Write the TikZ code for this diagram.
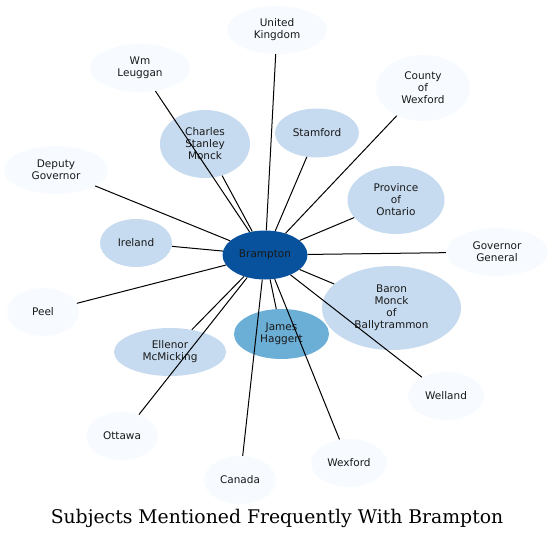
\documentclass[tikz,border=0pt]{standalone}
\usepackage{fontspec}
\setmainfont{DejaVu Sans}
\newfontfamily\titlefont{DejaVu Serif}
\usetikzlibrary{shapes.geometric}
\definecolor{pale}{HTML}{F7FBFF}
\definecolor{light}{HTML}{C6DBEF}
\definecolor{medium}{HTML}{6BAED6}
\definecolor{dark}{HTML}{08519C}
\tikzset{
  ent/.style={ellipse, inner sep=0pt, align=center, font=\fontsize{10.5}{12}\selectfont, text=black!90},
  pent/.style={ent, fill=pale},
  lent/.style={ent, fill=light},
  ment/.style={ent, fill=medium},
  dent/.style={ent, fill=dark},
  link/.style={draw=black, line width=1pt},
}
\begin{document}
\begin{tikzpicture}[x=1pt,y=-1pt]
\useasboundingbox (0,0) rectangle (553,540);
\node[dent, minimum width=85pt, minimum height=49pt] (bram) at (265,255) {Brampton};
\node[pent, minimum width=100pt, minimum height=48pt] (uk) at (277,30) {United\\Kingdom};
\node[pent, minimum width=100pt, minimum height=48pt] (wm) at (140,68) {Wm\\Leuggan};
\node[pent, minimum width=94pt, minimum height=66pt] (cow) at (423,88) {County\\of\\Wexford};
\node[lent, minimum width=90pt, minimum height=68pt] (csm) at (205,144) {Charles\\Stanley\\Monck};
\node[lent, minimum width=84pt, minimum height=49pt] (stam) at (317,133) {Stamford};
\node[pent, minimum width=104pt, minimum height=48pt] (dg) at (56,170) {Deputy\\Governor};
\node[lent, minimum width=97pt, minimum height=68pt] (poo) at (396,200) {Province\\of\\Ontario};
\node[lent, minimum width=72pt, minimum height=48pt] (irl) at (136,243) {Ireland};
\node[pent, minimum width=102pt, minimum height=48pt] (gg) at (497,252) {Governor\\General};
\node[lent, minimum width=139pt, minimum height=84pt] (baron) at (391.5,308) {Baron\\Monck\\of\\Ballytrammon};
\node[pent, minimum width=72pt, minimum height=48pt] (peel) at (43,312) {Peel};
\node[ment, minimum width=95pt, minimum height=50pt] (jh) at (281.5,334) {James\\Haggert};
\node[lent, minimum width=112pt, minimum height=48pt] (em) at (170,352) {Ellenor\\McMicking};
\node[pent, minimum width=76pt, minimum height=48pt] (well) at (446,396) {Welland};
\node[pent, minimum width=72pt, minimum height=48pt] (ott) at (122,436) {Ottawa};
\node[pent, minimum width=76pt, minimum height=48pt] (wex) at (349,463) {Wexford};
\node[pent, minimum width=72pt, minimum height=48pt] (can) at (240,480) {Canada};
\foreach \t in {uk,wm,cow,csm,stam,dg,poo,irl,gg,baron,peel,jh,em,well,ott,wex,can}
  \draw[link] (bram) -- (\t);
\node[font=\titlefont\fontsize{18.8}{22}\selectfont] (title) at (277,518) {Subjects Mentioned Frequently With Brampton};
\end{tikzpicture}
\end{document}
